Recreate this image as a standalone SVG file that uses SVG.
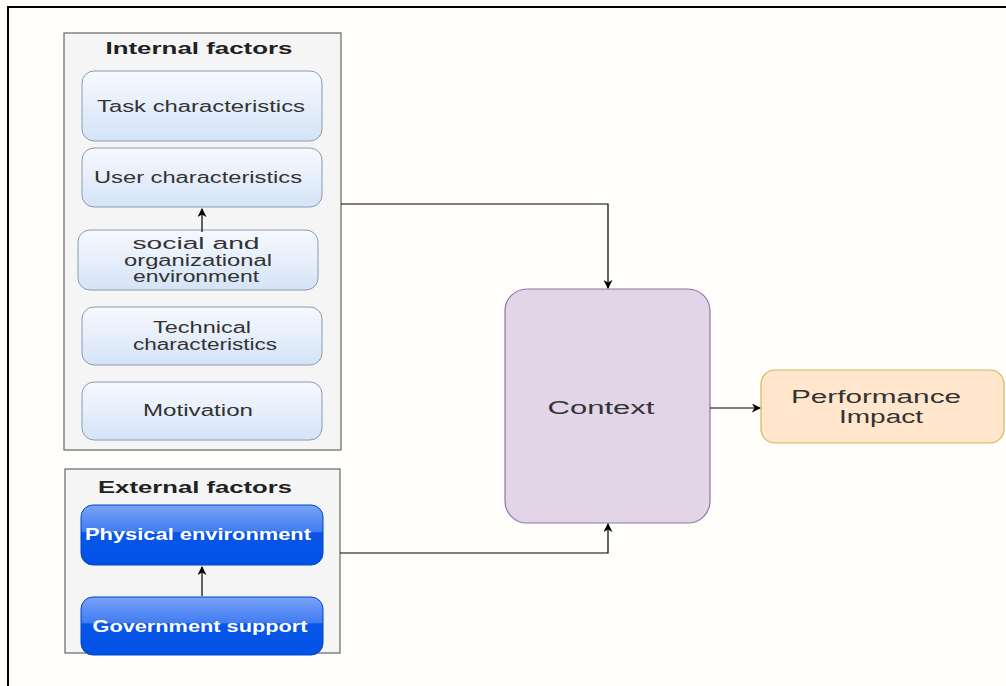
<svg xmlns="http://www.w3.org/2000/svg" width="1006" height="686" viewBox="0 0 1006 686">
  <defs>
    <linearGradient id="glassLight" x1="0" y1="0" x2="0" y2="1">
      <stop offset="0" stop-color="#f6f9fe"/>
      <stop offset="0.45" stop-color="#e8f0fb"/>
      <stop offset="1" stop-color="#d4e3f7"/>
    </linearGradient>
    <linearGradient id="glassBlue" x1="0" y1="0" x2="0" y2="1">
      <stop offset="0" stop-color="#7aa4f6"/>
      <stop offset="0.45" stop-color="#3f7bf2"/>
      <stop offset="0.46" stop-color="#0a55e8"/>
      <stop offset="1" stop-color="#0052e6"/>
    </linearGradient>
    <marker id="arrow" viewBox="0 0 10 10" refX="9" refY="5" markerWidth="9" markerHeight="9" markerUnits="userSpaceOnUse" orient="auto">
      <path d="M0,0 L10,5 L0,10 L3,5 Z" fill="#000"/>
    </marker>
  </defs>
  <style>
    .frame { fill: none; stroke: #000; stroke-width: 2; }
    .group { fill: #f5f5f5; stroke: #666; stroke-width: 1.2; }
    .title { font-family: "Liberation Sans", Arial, sans-serif; font-size: 17px; font-weight: bold; fill: #222; text-anchor: middle; }
    .light { fill: url(#glassLight); stroke: #8a9ab0; stroke-width: 1; }
    .dark { fill: url(#glassBlue); stroke: #0044cc; stroke-width: 1; }
    .lbl { font-family: "Liberation Sans", Arial, sans-serif; font-size: 16px; fill: #333; text-anchor: middle; }
    .wlbl { font-family: "Liberation Sans", Arial, sans-serif; font-size: 16px; font-weight: bold; fill: #fff; text-anchor: middle; }
    .big { font-family: "Liberation Sans", Arial, sans-serif; font-size: 18px; fill: #333; text-anchor: middle; }
    .edge { fill: none; stroke: #000; stroke-width: 1.2; marker-end: url(#arrow); }
  </style>

  <rect x="0" y="0" width="1006" height="686" fill="#fffefb"/>
  <path class="frame" d="M8,686 V7 H1006"/>

  <!-- Internal factors container -->
  <g id="internal-factors">
    <rect class="group" x="64" y="33" width="277" height="417"/>
    <text class="title" x="199" y="54" textLength="187" lengthAdjust="spacingAndGlyphs">Internal factors</text>
  </g>
  <g id="task">
    <rect class="light" x="82" y="71" width="240" height="70" rx="12"/>
    <text class="lbl" x="201" y="112" textLength="208" lengthAdjust="spacingAndGlyphs">Task characteristics</text>
  </g>
  <g id="user">
    <rect class="light" x="82" y="148" width="240" height="59" rx="12"/>
    <text class="lbl" x="198" y="183" textLength="208" lengthAdjust="spacingAndGlyphs">User characteristics</text>
  </g>
  <g id="social">
    <rect class="light" x="78" y="230" width="240" height="60" rx="12"/>
    <text class="lbl" x="196" y="249" textLength="127" lengthAdjust="spacingAndGlyphs">social and</text>
    <text class="lbl" x="198" y="266" textLength="148" lengthAdjust="spacingAndGlyphs">organizational</text>
    <text class="lbl" x="196" y="282" textLength="126" lengthAdjust="spacingAndGlyphs">environment</text>
  </g>
  <g id="technical">
    <rect class="light" x="82" y="307" width="240" height="58" rx="12"/>
    <text class="lbl" x="202" y="333" textLength="98" lengthAdjust="spacingAndGlyphs">Technical</text>
    <text class="lbl" x="205" y="350" textLength="144" lengthAdjust="spacingAndGlyphs">characteristics</text>
  </g>
  <g id="motivation">
    <rect class="light" x="82" y="382" width="240" height="58" rx="12"/>
    <text class="lbl" x="198" y="416" textLength="110" lengthAdjust="spacingAndGlyphs">Motivation</text>
  </g>

  <!-- External factors container -->
  <g id="external-factors">
    <rect class="group" x="65" y="469" width="275" height="184"/>
    <text class="title" x="195" y="493" textLength="194" lengthAdjust="spacingAndGlyphs">External factors</text>
  </g>
  <g id="physical">
    <rect class="dark" x="81" y="505" width="242" height="60" rx="12"/>
    <text class="wlbl" x="198" y="540" textLength="226" lengthAdjust="spacingAndGlyphs">Physical environment</text>
  </g>
  <g id="government">
    <rect class="dark" x="81" y="597" width="242" height="58" rx="12"/>
    <text class="wlbl" x="200" y="632" textLength="215" lengthAdjust="spacingAndGlyphs">Government support</text>
  </g>

  <g id="context">
    <rect x="505" y="289" width="205" height="234" rx="22" fill="#e1d5e7" stroke="#9673a6" stroke-width="1.2"/>
    <text class="big" x="601" y="414" textLength="107" lengthAdjust="spacingAndGlyphs">Context</text>
  </g>
  <g id="performance">
    <rect x="761" y="370" width="243" height="73" rx="14" fill="#ffe6cc" stroke="#d6b656" stroke-width="1.2"/>
    <text class="lbl" x="876" y="403" style="font-size:18px" textLength="170" lengthAdjust="spacingAndGlyphs">Performance</text>
    <text class="lbl" x="881" y="423" style="font-size:18px" textLength="84" lengthAdjust="spacingAndGlyphs">Impact</text>
  </g>

  <g id="connectors">
    <path class="edge" d="M202,232 V209"/>
    <path class="edge" d="M202,596 V567"/>
    <path class="edge" d="M341,204 H608 V288"/>
    <path class="edge" d="M340,553 H608 V524"/>
    <path class="edge" d="M710,408 H760"/>
  </g>
</svg>
